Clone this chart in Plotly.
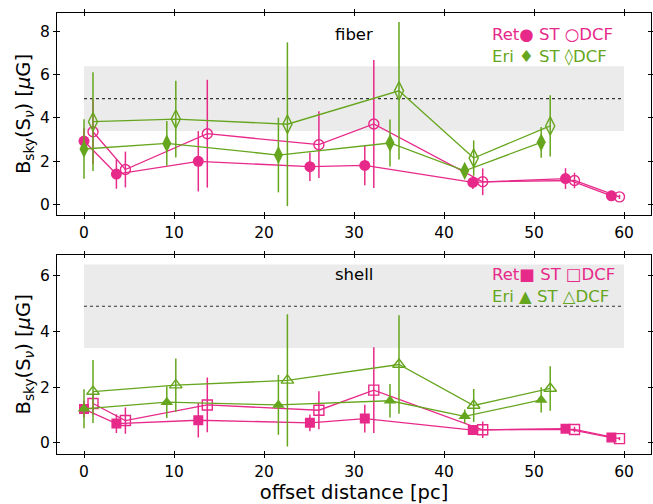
import plotly.graph_objects as go

# offsets (pc) of each measurement
x_ret_st = [0.0, 3.6, 12.7, 25.1, 31.2, 43.2, 53.5, 58.6]
x_ret_dcf = [1.0, 4.6, 13.7, 26.1, 32.2, 44.3, 54.5, 59.5]
x_eri_st = [0.0, 9.2, 21.6, 34.0, 42.3, 50.8]
x_eri_dcf = [1.0, 10.2, 22.6, 35.0, 43.3, 51.8]

# fiber: B_sky (muG) and errors
fib_ret_st = [2.93, 1.40, 1.99, 1.74, 1.80, 1.01, 1.19, 0.39]
fib_ret_st_err = [0.60, 0.68, 1.40, 0.66, 0.92, 0.30, 0.48, 0.10]
fib_ret_dcf = [3.36, 1.61, 3.27, 2.76, 3.72, 1.04, 1.10, 0.34]
fib_ret_dcf_err = [1.48, 0.83, 2.50, 1.55, 2.97, 0.62, 0.36, 0.10]
fib_eri_st = [2.56, 2.82, 2.28, 2.84, 1.55, 2.87]
fib_eri_st_err = [1.38, 1.04, 1.73, 1.09, 0.30, 0.71]
fib_eri_dcf = [3.83, 3.95, 3.71, 5.26, 2.14, 3.63]
fib_eri_dcf_err = [2.29, 1.78, 3.80, 3.19, 0.82, 1.42]

# shell: B_sky (muG) and errors
sh_ret_st = [1.21, 0.69, 0.81, 0.72, 0.87, 0.46, 0.51, 0.19]
sh_ret_st_err = [0.30, 0.34, 0.62, 0.30, 0.50, 0.15, 0.10, 0.06]
sh_ret_dcf = [1.41, 0.80, 1.36, 1.17, 1.89, 0.47, 0.48, 0.15]
sh_ret_dcf_err = [0.40, 0.47, 0.98, 0.68, 1.54, 0.30, 0.10, 0.06]
sh_eri_st = [1.22, 1.46, 1.36, 1.51, 0.95, 1.54]
sh_eri_st_err = [0.70, 0.57, 1.07, 0.60, 0.25, 0.45]
sh_eri_dcf = [1.84, 2.07, 2.24, 2.81, 1.34, 1.95]
sh_eri_dcf_err = [1.13, 0.96, 2.37, 1.77, 0.59, 0.80]

# reference field band (muG)
band_low, band_mid, band_high = 3.4, 4.9, 6.4
band_x = [0, 60]

PINK = "#e7298a"
GREEN = "#66a61e"
FONT = "DejaVu Sans"

fig = go.Figure()


def add_series(x, y, err, color, symbol, size, xa, ya, open_marker=False):
    marker = dict(symbol=symbol, size=size, color=color,
                  line=dict(width=1.4 if open_marker else 0, color=color))
    fig.add_trace(go.Scatter(
        x=x, y=y, mode="lines+markers", xaxis=xa, yaxis=ya,
        line=dict(color=color, width=1.3),
        marker=marker,
        error_y=dict(type="data", array=err, visible=True, color=color,
                     thickness=1.5, width=0),
        showlegend=False, hoverinfo="x+y"))


# top panel (fiber)
add_series(x_ret_st, fib_ret_st, fib_ret_st_err, PINK, "circle", 11, "x", "y")
add_series(x_ret_dcf, fib_ret_dcf, fib_ret_dcf_err, PINK, "circle-open", 10, "x", "y", True)
add_series(x_eri_st, fib_eri_st, fib_eri_st_err, GREEN, "diamond-tall", 13, "x", "y")
add_series(x_eri_dcf, fib_eri_dcf, fib_eri_dcf_err, GREEN, "diamond-tall-open", 13, "x", "y", True)

# bottom panel (shell)
add_series(x_ret_st, sh_ret_st, sh_ret_st_err, PINK, "square", 10, "x2", "y2")
add_series(x_ret_dcf, sh_ret_dcf, sh_ret_dcf_err, PINK, "square-open", 10, "x2", "y2", True)
add_series(x_eri_st, sh_eri_st, sh_eri_st_err, GREEN, "triangle-up", 11, "x2", "y2")
add_series(x_eri_dcf, sh_eri_dcf, sh_eri_dcf_err, GREEN, "triangle-up-open", 11, "x2", "y2", True)

# empty traces so the inward-tick overlay axes get drawn
fig.add_trace(go.Scatter(x=[], y=[], xaxis="x3", yaxis="y3", showlegend=False))
fig.add_trace(go.Scatter(x=[], y=[], xaxis="x4", yaxis="y4", showlegend=False))

# shaded band and dotted mean line in both panels
for xr, yr in (("x", "y"), ("x2", "y2")):
    fig.add_shape(type="rect", xref=xr, yref=yr, x0=band_x[0], x1=band_x[1],
                  y0=band_low, y1=band_high, fillcolor="#ebebeb",
                  line=dict(width=0), layer="below")
    fig.add_shape(type="line", xref=xr, yref=yr, x0=band_x[0], x1=band_x[1],
                  y0=band_mid, y1=band_mid,
                  line=dict(color="#333333", width=1.2, dash="dot"), layer="below")

xrange = [-3, 63]
yrange_top = [-0.5, 8.87]
yrange_bot = [-0.4, 6.75]
dom_top = [0.542, 1.0]
dom_bot = [0.0, 0.452]

tickfont = dict(family=FONT, size=15.5, color="black")
common_out = dict(showline=True, linecolor="black", linewidth=1, mirror="ticks",
                  ticks="outside", ticklen=3, tickwidth=1, tickcolor="black",
                  showgrid=False, zeroline=False, tickfont=tickfont,
                  automargin=False)
common_in = dict(showline=False, mirror="ticks", ticks="inside", ticklen=3,
                 tickwidth=1, tickcolor="black", showgrid=False, zeroline=False,
                 showticklabels=False)

ytitle = dict(text="B<sub>sky</sub>(S<sub><i>ν</i></sub>) [<i>μ</i>G]",
              font=dict(family=FONT, size=19.5, color="black"), standoff=4)

fig.update_layout(
    width=653, height=504,
    margin=dict(l=57, r=2, t=13, b=50),
    plot_bgcolor="white", paper_bgcolor="white",
    font=dict(family=FONT, color="black"),
    xaxis=dict(range=xrange, anchor="y", dtick=10, **common_out),
    yaxis=dict(range=yrange_top, domain=dom_top, anchor="x", dtick=2,
               title=ytitle, **common_out),
    xaxis2=dict(range=xrange, anchor="y2", dtick=10,
                title=dict(text="offset distance [pc]",
                           font=dict(family=FONT, size=19.5, color="black"),
                           standoff=12),
                **common_out),
    yaxis2=dict(range=yrange_bot, domain=dom_bot, anchor="x2", dtick=2,
                title=ytitle, **common_out),
    xaxis3=dict(range=xrange, overlaying="x", anchor="y3", dtick=10, **common_in),
    yaxis3=dict(range=yrange_top, overlaying="y", anchor="x3", dtick=2, **common_in),
    xaxis4=dict(range=xrange, overlaying="x2", anchor="y4", dtick=10, **common_in),
    yaxis4=dict(range=yrange_bot, overlaying="y2", anchor="x4", dtick=2, **common_in),
)

lab = dict(family=FONT, size=16.5)
annos = [
    ("x", "y", 30, 7.86, "fiber", "black", "center"),
    ("x", "y", 45.1, 7.86, "Ret● ST ○DCF", PINK, "left"),
    ("x", "y", 45.1, 6.84, "Eri ♦ ST ◊DCF", GREEN, "left"),
    ("x2", "y2", 30, 6.05, "shell", "black", "center"),
    ("x2", "y2", 45.1, 6.05, "Ret■ ST □DCF", PINK, "left"),
    ("x2", "y2", 45.1, 5.25, "Eri ▲ ST △DCF", GREEN, "left"),
]
for xr, yr, xv, yv, txt, col, anc in annos:
    fig.add_annotation(xref=xr, yref=yr, x=xv, y=yv, text=txt, showarrow=False,
                       xanchor=anc, yanchor="middle",
                       font=dict(color=col, **lab))

fig.write_html("out.html")
